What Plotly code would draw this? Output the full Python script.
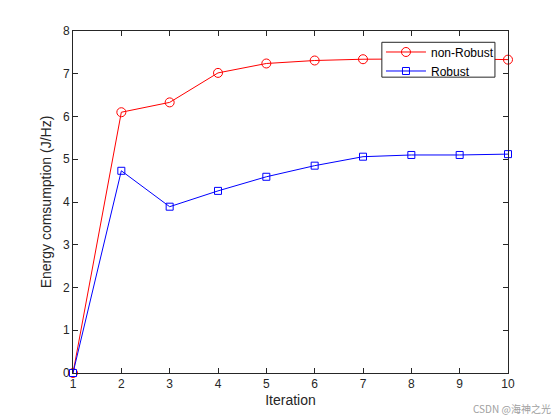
import plotly.graph_objects as go

iterations = [1, 2, 3, 4, 5, 6, 7, 8, 9, 10]
non_robust = [0, 6.10, 6.33, 7.02, 7.24, 7.31, 7.34, 7.35, 7.35, 7.33]
robust = [0, 4.73, 3.89, 4.26, 4.59, 4.85, 5.06, 5.10, 5.10, 5.12]

FONT = "Liberation Sans, Arial, sans-serif"
TICK_COLOR = "#262626"

fig = go.Figure()

fig.add_trace(go.Scatter(
    x=iterations, y=non_robust, name="non-Robust",
    mode="lines+markers", cliponaxis=False,
    line=dict(color="#ff0000", width=1),
    marker=dict(symbol="circle-open", size=9, color="#ff0000", line=dict(width=1)),
))
fig.add_trace(go.Scatter(
    x=iterations, y=robust, name="Robust",
    mode="lines+markers", cliponaxis=False,
    line=dict(color="#0000ff", width=1),
    marker=dict(symbol="square-open", size=7, color="#0000ff", line=dict(width=1)),
))

axis_style = dict(
    showgrid=False, zeroline=False,
    showline=True, linecolor=TICK_COLOR, linewidth=1, mirror="ticks",
    ticks="inside", ticklen=5, tickwidth=1, tickcolor=TICK_COLOR,
    tickfont=dict(family=FONT, size=12, color=TICK_COLOR),
)

fig.update_xaxes(
    range=[1, 10], dtick=1, tick0=1,
    title=dict(text="Iteration", font=dict(family=FONT, size=14, color=TICK_COLOR), standoff=4),
    **axis_style,
)
fig.update_yaxes(
    range=[0, 8], dtick=1,
    title=dict(text="Energy comsumption (J/Hz)", font=dict(family=FONT, size=14, color=TICK_COLOR), standoff=8),
    **axis_style,
)

# the page puts the figure 8 px from the top-left corner, so the sizes allow for that
fig.update_layout(
    width=552, height=412,
    margin=dict(l=65, r=52, t=23, b=47),
    paper_bgcolor="white", plot_bgcolor="white",
    font=dict(family=FONT, color=TICK_COLOR),
    legend=dict(
        x=0.708, y=0.981, xanchor="left", yanchor="top",
        bgcolor="rgba(0,0,0,0)", borderwidth=0,
        font=dict(family=FONT, size=12, color="#000000"),
        tracegroupgap=0, itemwidth=40,
    ),
    # legend frame, drawn over the lines like the boxed legend in the original
    shapes=[dict(
        type="rect", xref="paper", yref="paper", layer="above",
        x0=0.710, x1=0.970, y0=0.865, y1=0.967,
        fillcolor="white", line=dict(color="#262626", width=1),
    )],
    annotations=[dict(
        text="CSDN @海神之光", xref="paper", yref="paper",
        x=1.0, y=0.0, xanchor="right", yanchor="middle", xshift=45, yshift=-35,
        showarrow=False, font=dict(family="Noto Sans CJK SC, sans-serif", size=10, color="#a0a0a0"),
    )],
)

fig.write_html("out.html")
